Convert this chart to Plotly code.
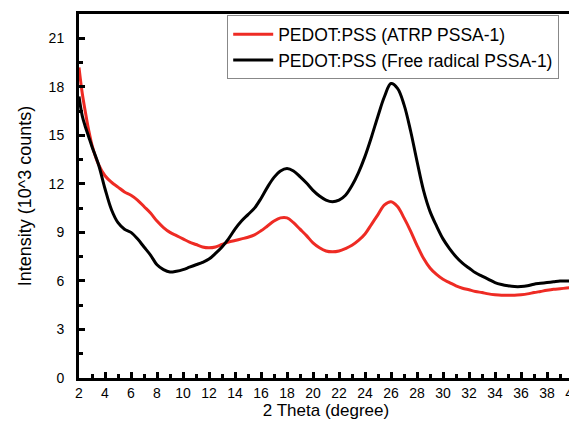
import plotly.graph_objects as go

two_theta = [2.0, 2.25, 2.5, 2.75, 3.0, 3.5, 4.0, 4.5, 5.0, 5.5, 6.0, 6.5, 7.0, 7.5, 8.0, 8.5,
             9.0, 9.5, 10.0, 10.5, 11.0, 11.5, 12.0, 12.5, 13.0, 13.5, 14.0, 14.5, 15.0, 15.5,
             16.0, 16.5, 17.0, 17.5, 18.0, 18.5, 19.0, 19.5, 20.0, 20.5, 21.0, 21.5, 22.0, 22.5,
             23.0, 23.5, 24.0, 24.5, 25.0, 25.5, 26.0, 26.5, 27.0, 27.5, 28.0, 28.5, 29.0, 29.5,
             30.0, 30.5, 31.0, 31.5, 32.0, 32.5, 33.0, 33.5, 34.0, 34.5, 35.0, 35.5, 36.0, 36.5,
             37.0, 37.5, 38.0, 38.5, 39.0, 39.5, 40.0]

atrp = [19.2, 17.6, 16.4, 15.3, 14.4, 13.2, 12.5, 12.1, 11.8, 11.5, 11.3, 11.0, 10.6, 10.2, 9.7, 9.3,
        9.0, 8.8, 8.6, 8.4, 8.25, 8.1, 8.05, 8.1, 8.25, 8.4, 8.5, 8.6, 8.7, 8.85,
        9.1, 9.4, 9.7, 9.9, 9.9, 9.6, 9.2, 8.8, 8.35, 8.05, 7.85, 7.8, 7.85, 8.0,
        8.2, 8.5, 8.9, 9.5, 10.1, 10.7, 10.9, 10.6, 9.9, 9.1, 8.2, 7.4, 6.8, 6.4,
        6.1, 5.9, 5.7, 5.55, 5.45, 5.35, 5.28, 5.2, 5.15, 5.12, 5.12, 5.12, 5.15, 5.2,
        5.28, 5.35, 5.42, 5.48, 5.52, 5.56, 5.6]

free_radical = [17.4, 16.2, 15.5, 14.9, 14.3, 13.2, 11.7, 10.4, 9.6, 9.2, 9.0, 8.6, 8.1, 7.6, 7.0, 6.7,
                6.55, 6.6, 6.7, 6.85, 7.0, 7.15, 7.35, 7.7, 8.1, 8.6, 9.2, 9.7, 10.1, 10.5,
                11.1, 11.8, 12.4, 12.8, 12.95, 12.8, 12.45, 12.05, 11.6, 11.25, 11.0, 10.9, 11.0, 11.3,
                11.9, 12.7, 13.7, 14.9, 16.2, 17.4, 18.2, 17.9, 16.9, 15.3, 13.4, 11.6, 10.3, 9.4,
                8.6, 8.0, 7.5, 7.1, 6.8, 6.5, 6.3, 6.1, 5.9, 5.78, 5.7, 5.65, 5.65, 5.7,
                5.8, 5.85, 5.9, 5.95, 6.0, 6.0, 6.0]

x_ticks = list(range(2, 41, 2))
y_ticks = list(range(0, 22, 3))

fig = go.Figure()
fig.add_trace(go.Scatter(x=two_theta, y=atrp, mode="lines", name="PEDOT:PSS (ATRP PSSA-1)",
                         line=dict(color="#ee2b24", width=3, shape="spline")))
fig.add_trace(go.Scatter(x=two_theta, y=free_radical, mode="lines", name="PEDOT:PSS (Free radical PSSA-1)",
                         line=dict(color="#000000", width=3, shape="spline")))

axis_font = dict(family="Liberation Sans, Arial, sans-serif", size=14, color="black")
fig.update_layout(
    width=569, height=422,
    margin=dict(l=71, r=4, t=6, b=52),
    paper_bgcolor="white", plot_bgcolor="white",
    font=axis_font,
    showlegend=True,
    legend=dict(x=0.3, y=0.996, xanchor="left", yanchor="top",
                bordercolor="#888888", borderwidth=1, bgcolor="white",
                font=dict(family="Liberation Sans, Arial, sans-serif", size=17.5, color="black"),
                tracegroupgap=0, itemwidth=40),
    xaxis=dict(range=[2, 40], tickvals=x_ticks, ticks="inside", ticklen=6, tickwidth=3,
               tickcolor="black", showline=True, linewidth=3, linecolor="black", mirror=True,
               showgrid=False, zeroline=False, automargin=False, ticklabeloverflow="allow",
               minor=dict(dtick=1, tick0=2, ticks="inside", ticklen=4, tickwidth=3, tickcolor="black"),
               title=dict(text="2 Theta (degree)", font=dict(size=17), standoff=4)),
    yaxis=dict(range=[0, 22.5], tickvals=y_ticks, ticks="inside", ticklen=6, tickwidth=3,
               tickcolor="black", showline=True, linewidth=3, linecolor="black", mirror=True,
               showgrid=False, zeroline=False, automargin=False, ticklabelstandoff=9,
               ticklabeloverflow="allow",
               minor=dict(dtick=1.5, tick0=0, ticks="inside", ticklen=4, tickwidth=3, tickcolor="black"),
               title=dict(text="Intensity (10^3 counts)", font=dict(size=18), standoff=13)),
)

fig.write_html("out.html")
